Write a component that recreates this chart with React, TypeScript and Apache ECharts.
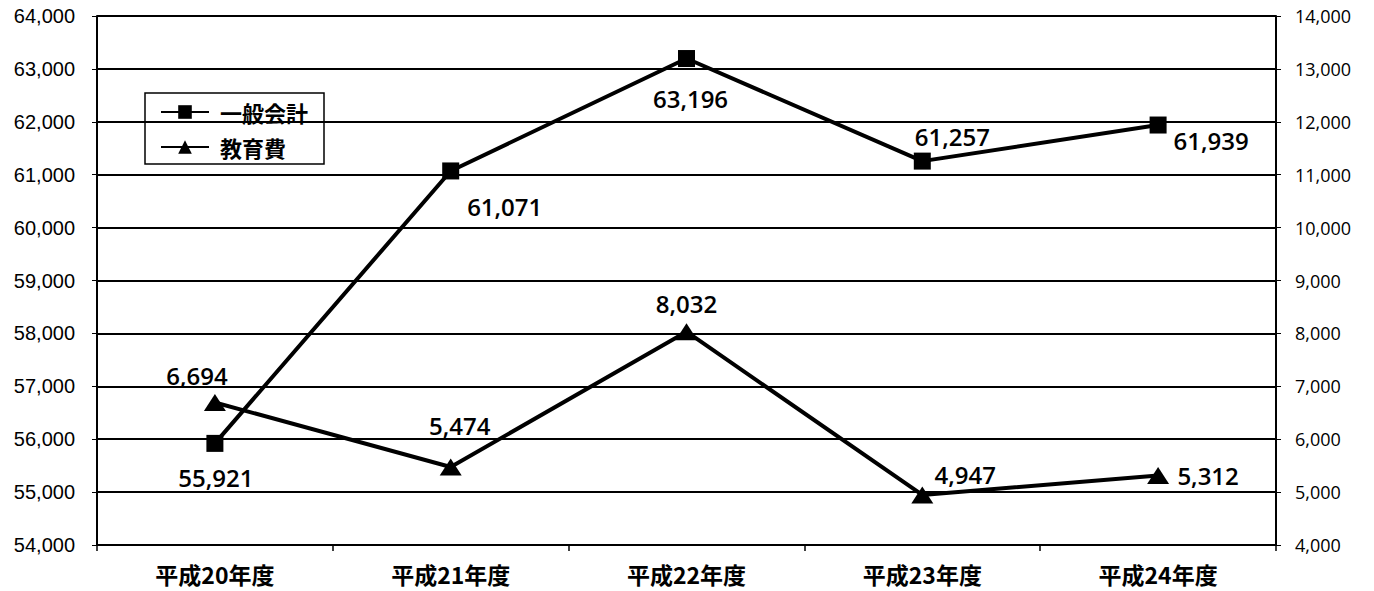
import React, { useEffect, useRef } from "react";
import * as echarts from "echarts";

const categories = ["平成20年度", "平成21年度", "平成22年度", "平成23年度", "平成24年度"];
const generalAccount = [55921, 61071, 63196, 61257, 61939];
const education = [6694, 5474, 8032, 4947, 5312];

const fmt = (v: number) => v.toLocaleString("en-US");

export default function App() {
  const ref = useRef<HTMLDivElement>(null);
  useEffect(() => {
    const chart = echarts.init(ref.current!, null, { renderer: "svg" });
    const labelFont = {
      fontFamily: "'Open Sans', 'Noto Sans', sans-serif",
      fontSize: 24,
      fontWeight: 600,
      color: "#000",
      position: "inside",
    };
    const gOffsets = [[1, 34], [54, 36], [4, 40], [30, -25], [53, 15]];
    const eOffsets = [[-18, -27], [9, -42], [0, -28], [43, -20], [50, 0]];
    chart.setOption({
      animation: false,
      backgroundColor: "#fff",
      grid: { left: 97, right: 98, top: 16, bottom: 46 },
      legend: {
        left: 145,
        top: 93,
        orient: "vertical",
        borderColor: "#000",
        borderWidth: 1.5,
        padding: [8, 16, 6, 15],
        itemGap: 13,
        itemWidth: 48,
        itemHeight: 17,
        textStyle: {
          fontFamily: "'Noto Sans CJK JP', sans-serif",
          fontSize: 22,
          fontWeight: "bold",
          color: "#000",
          padding: [0, 0, 0, 6],
        },
        data: ["一般会計", "教育費"],
      },
      xAxis: {
        type: "category",
        data: categories,
        boundaryGap: true,
        axisLine: { lineStyle: { color: "#000", width: 2 } },
        axisTick: { show: true, length: 6, lineStyle: { color: "#000", width: 1.5 } },
        axisLabel: {
          fontFamily: "'Noto Sans CJK JP', sans-serif",
          fontSize: 23,
          fontWeight: "bold",
          color: "#000",
          margin: 17,
        },
      },
      yAxis: [
        {
          type: "value",
          min: 54000,
          max: 64000,
          interval: 1000,
          axisLine: { show: true, lineStyle: { color: "#000", width: 2 } },
          axisTick: { show: true, length: 5, lineStyle: { color: "#000" } },
          splitLine: { lineStyle: { color: "#000", width: 1.8 } },
          axisLabel: {
            fontFamily: "'Liberation Sans', Arial, sans-serif",
            fontSize: 20,
            color: "#000",
            margin: 22,
            formatter: fmt,
          },
        },
        {
          type: "value",
          min: 4000,
          max: 14000,
          interval: 1000,
          position: "right",
          axisLine: { show: true, lineStyle: { color: "#000", width: 2 } },
          axisTick: { show: true, length: 5, lineStyle: { color: "#000" } },
          splitLine: { show: false },
          axisLabel: {
            fontFamily: "'Open Sans', sans-serif",
            fontSize: 18,
            color: "#000",
            margin: 19,
            formatter: fmt,
          },
        },
      ],
      series: [
        {
          name: "一般会計",
          type: "line",
          yAxisIndex: 0,
          symbol: "rect",
          symbolSize: 17,
          lineStyle: { color: "#000", width: 4 },
          itemStyle: { color: "#000" },
          data: generalAccount.map((v, i) => ({
            value: v,
            label: { show: true, formatter: (p: any) => fmt(Number(p.value)), ...labelFont, offset: gOffsets[i] },
          })),
        },
        {
          name: "教育費",
          type: "line",
          yAxisIndex: 1,
          symbol: "triangle",
          symbolSize: [22, 17],
          lineStyle: { color: "#000", width: 4 },
          itemStyle: { color: "#000" },
          data: education.map((v, i) => ({
            value: v,
            label: { show: true, formatter: (p: any) => fmt(Number(p.value)), ...labelFont, offset: eOffsets[i] },
          })),
        },
      ],
    });
    return () => chart.dispose();
  }, []);
  return <div ref={ref} style={{ position: "fixed", left: 0, top: 0, width: 1374, height: 591 }} />;
}
